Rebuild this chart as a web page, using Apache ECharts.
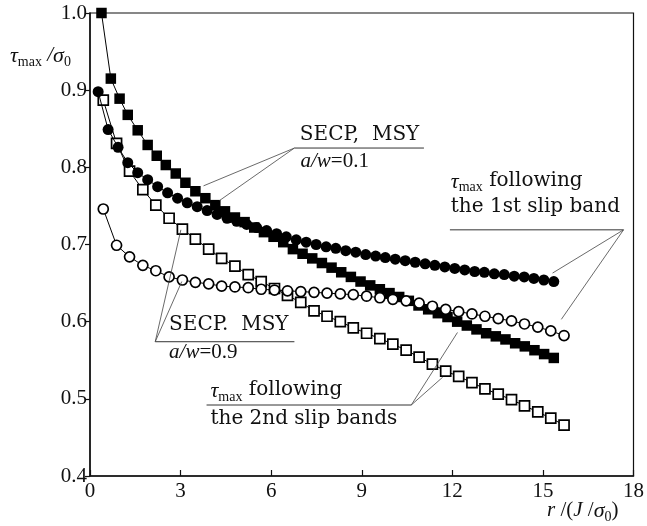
<!DOCTYPE html>
<html><head><meta charset="utf-8">
<script src="https://cdn.jsdelivr.net/npm/echarts@6/dist/echarts.min.js"></script>
<style>html,body{margin:0;padding:0;background:#fff}#c{width:647px;height:526px}</style>
</head><body><div id="c"></div>
<script>
// ---- data ----
const xTicks = [0, 3, 6, 9, 12, 15, 18];
const yTicks = [0.4, 0.5, 0.6, 0.7, 0.8, 0.9, 1.0];

// a/w = 0.1, 2nd slip bands (filled squares)
const fsqX = [0.38,0.69,0.98,1.25,1.58,1.91,2.21,2.51,2.84,3.16,3.49,3.82,4.15,4.47,4.8,5.12,5.44,5.76,6.08,6.4,6.72,7.04,7.36,7.68,8.0,8.32,8.64,8.96,9.28,9.6,9.92,10.24,10.56,10.88,11.2,11.52,11.84,12.16,12.48,12.8,13.12,13.44,13.76,14.08,14.4,14.72,15.04,15.36];
const fsqY = [1.0,0.915,0.889,0.868,0.848,0.829,0.815,0.803,0.792,0.780,0.769,0.760,0.751,0.743,0.735,0.729,0.722,0.716,0.710,0.703,0.694,0.688,0.682,0.676,0.670,0.664,0.658,0.652,0.647,0.642,0.637,0.632,0.627,0.621,0.616,0.611,0.606,0.600,0.595,0.590,0.585,0.581,0.577,0.572,0.568,0.563,0.558,0.553];

// a/w = 0.1, 1st slip band (filled circles)
const fciX = [0.27,0.6,0.93,1.25,1.58,1.91,2.24,2.57,2.9,3.22,3.55,3.88,4.21,4.54,4.86,5.19,5.52,5.85,6.18,6.5,6.83,7.16,7.49,7.82,8.14,8.47,8.8,9.13,9.46,9.78,10.11,10.44,10.77,11.1,11.42,11.75,12.08,12.41,12.74,13.06,13.39,13.72,14.05,14.38,14.7,15.03,15.36];
const fciY = [0.898,0.849,0.826,0.806,0.793,0.784,0.775,0.767,0.760,0.754,0.749,0.744,0.739,0.734,0.730,0.726,0.722,0.718,0.714,0.710,0.706,0.703,0.700,0.697,0.695,0.692,0.690,0.687,0.685,0.683,0.681,0.679,0.677,0.675,0.673,0.671,0.669,0.667,0.665,0.664,0.662,0.661,0.659,0.658,0.656,0.654,0.652];

// a/w = 0.9 (open markers)
const openX = [0.44,0.88,1.31,1.75,2.18,2.62,3.06,3.49,3.93,4.36,4.8,5.24,5.67,6.11,6.54,6.98,7.42,7.85,8.29,8.72,9.16,9.6,10.03,10.47,10.9,11.34,11.78,12.21,12.65,13.08,13.52,13.96,14.39,14.83,15.26,15.7];
const osqY = [0.887,0.831,0.795,0.771,0.751,0.734,0.720,0.707,0.694,0.682,0.672,0.661,0.652,0.643,0.634,0.625,0.614,0.607,0.600,0.592,0.585,0.578,0.571,0.563,0.554,0.545,0.536,0.529,0.521,0.513,0.506,0.499,0.491,0.483,0.475,0.466];
const ociY = [0.746,0.699,0.684,0.673,0.666,0.658,0.654,0.651,0.649,0.646,0.645,0.644,0.642,0.641,0.640,0.639,0.638,0.637,0.636,0.635,0.633,0.631,0.629,0.627,0.624,0.620,0.616,0.613,0.610,0.607,0.604,0.601,0.597,0.593,0.588,0.582];

const pair = (xs, ys) => xs.map((x, i) => [x, ys[i]]);

const serif = 'Liberation Serif';
const annFont = 'DejaVu Serif';

const chart = echarts.init(document.getElementById('c'), null, {renderer: 'canvas'});

const lineBase = {
  type: 'line', smooth: false, animation: false,
  lineStyle: {color: '#000', width: 1},
  emphasis: {disabled: true}
};

chart.setOption({
  animation: false,
  backgroundColor: '#fff',
  grid: {left: 90, right: 7, top: 13, bottom: 50, show: true, borderColor: '#111', borderWidth: 1.2, backgroundColor: 'transparent'},
  xAxis: {
    type: 'value', min: 0, max: 18, interval: 3,
    axisLine: {show: true, onZero: false, lineStyle: {color: '#111', width: 1.5}},
    axisTick: {show: true, inside: true, length: 6, lineStyle: {color: '#111', width: 1.2}},
    axisLabel: {color: '#111', fontFamily: serif, fontSize: 21, margin: 5,
      formatter: v => xTicks.includes(v) ? String(v) : ''},
    splitLine: {show: false}
  },
  yAxis: {
    type: 'value', min: 0.4, max: 1.0, interval: 0.1,
    axisLine: {show: true, lineStyle: {color: '#111', width: 1.5}},
    axisTick: {show: true, inside: false, length: 5, lineStyle: {color: '#111', width: 1.2}},
    axisLabel: {color: '#111', fontFamily: serif, fontSize: 21, margin: 3,
      formatter: v => {
        const t = yTicks.find(y => Math.abs(y - v) < 1e-6);
        return t === undefined ? '' : t.toFixed(1);
      }},
    splitLine: {show: false}
  },
  series: [
    Object.assign({}, lineBase, {
      name: 'open squares a/w=0.9', data: pair(openX, osqY), symbol: 'rect', symbolSize: 10,
      itemStyle: {color: '#fff', borderColor: '#000', borderWidth: 1.7}, z: 2
    }),
    Object.assign({}, lineBase, {
      name: 'filled circles a/w=0.1', data: pair(fciX, fciY), symbol: 'circle', symbolSize: 11,
      itemStyle: {color: '#000', borderColor: '#000', borderWidth: 0}, z: 3
    }),
    Object.assign({}, lineBase, {
      name: 'filled squares a/w=0.1', data: pair(fsqX, fsqY), symbol: 'rect', symbolSize: 10.5,
      itemStyle: {color: '#000', borderColor: '#000', borderWidth: 0}, z: 4
    }),
    Object.assign({}, lineBase, {
      name: 'open circles a/w=0.9', data: pair(openX, ociY), symbol: 'circle', symbolSize: 10,
      itemStyle: {color: '#fff', borderColor: '#000', borderWidth: 1.7}, z: 5
    })
  ]
});

// ---- annotations (anchored in data coordinates) ----
const P = (x, y) => chart.convertToPixel({gridIndex: 0}, [x, y]);
const g = [];
function seg(a, b, w, c) {
  const p = P(a[0], a[1]), q = P(b[0], b[1]);
  g.push({type: 'line', silent: true, z: 10, shape: {x1: p[0], y1: p[1], x2: q[0], y2: q[1]},
    style: {stroke: c || '#444', lineWidth: w || 0.8}});
}
const tauRich = {
  t: {fontFamily: serif, fontStyle: 'italic', fontSize: 22, fill: '#111', lineHeight: 24, verticalAlign: 'top'},
  s: {fontFamily: serif, fontSize: 14, fill: '#111', lineHeight: 14, padding: [10, 0, 0, 0], verticalAlign: 'top'},
  n: {fontFamily: annFont, fontSize: 20, fill: '#111', lineHeight: 24, verticalAlign: 'top'},
  i: {fontFamily: serif, fontStyle: 'italic', fontSize: 21, fill: '#111', lineHeight: 24, verticalAlign: 'top'},
  r: {fontFamily: serif, fontSize: 21, fill: '#111', lineHeight: 24, verticalAlign: 'top'}
};
function txt(x, y, text, rich, font, size) {
  const p = P(x, y);
  const el = {type: 'text', silent: true, z: 10, x: p[0], y: p[1],
    style: {text: text, fill: '#111', fontFamily: font || annFont, fontSize: size || 20, verticalAlign: 'middle', align: 'left'}};
  if (rich) el.style.rich = rich;
  g.push(el);
}

// SECP, MSY  a/w = 0.1
seg([6.77, 0.825], [11.06, 0.825], 1, '#333');
seg([6.77, 0.825], [3.76, 0.776]);
seg([6.77, 0.825], [4.29, 0.757]);
txt(6.95, 0.842, 'SECP,  MSY');
txt(6.97, 0.806, '{i|a}{i|/}{i|w}{r|=0.1}', tauRich);

// tau_max following the 1st slip band
txt(11.95, 0.780, '{t|τ}{s|max}{n| following}', tauRich);
txt(11.95, 0.749, 'the 1st slip band');
seg([11.92, 0.719], [17.67, 0.719], 1, '#333');
seg([17.67, 0.719], [15.32, 0.663]);
seg([17.67, 0.719], [15.61, 0.603]);

// SECP. MSY a/w = 0.9
txt(2.62, 0.596, 'SECP.  MSY');
seg([2.16, 0.574], [6.77, 0.574], 1, '#333');
txt(2.62, 0.558, '{i|a}{i|/}{i|w}{r|=0.9}', tauRich);
seg([2.16, 0.574], [3.01, 0.719]);
seg([2.16, 0.574], [3.04, 0.652]);

// tau_max following the 2nd slip bands
txt(3.99, 0.509, '{t|τ}{s|max}{n| following}', tauRich);
seg([3.86, 0.492], [10.64, 0.492], 1, '#333');
txt(3.99, 0.474, 'the 2nd slip bands');
seg([10.64, 0.492], [12.17, 0.586]);
seg([10.64, 0.492], [11.68, 0.528]);

// axis names
g.push({type: 'text', silent: true, z: 10, x: 10, y: 45,
  style: {text: '{t|τ}{s|max}{i| /}{t|σ}{s|0}', rich: tauRich}});
g.push({type: 'text', silent: true, z: 10, x: 547, y: 500,
  style: {text: '{i|r}{r| /(}{i|J}{r| /}{t|σ}{s|0}{r|)}', rich: tauRich}});

chart.setOption({graphic: {elements: g}});
</script>
</body></html>
